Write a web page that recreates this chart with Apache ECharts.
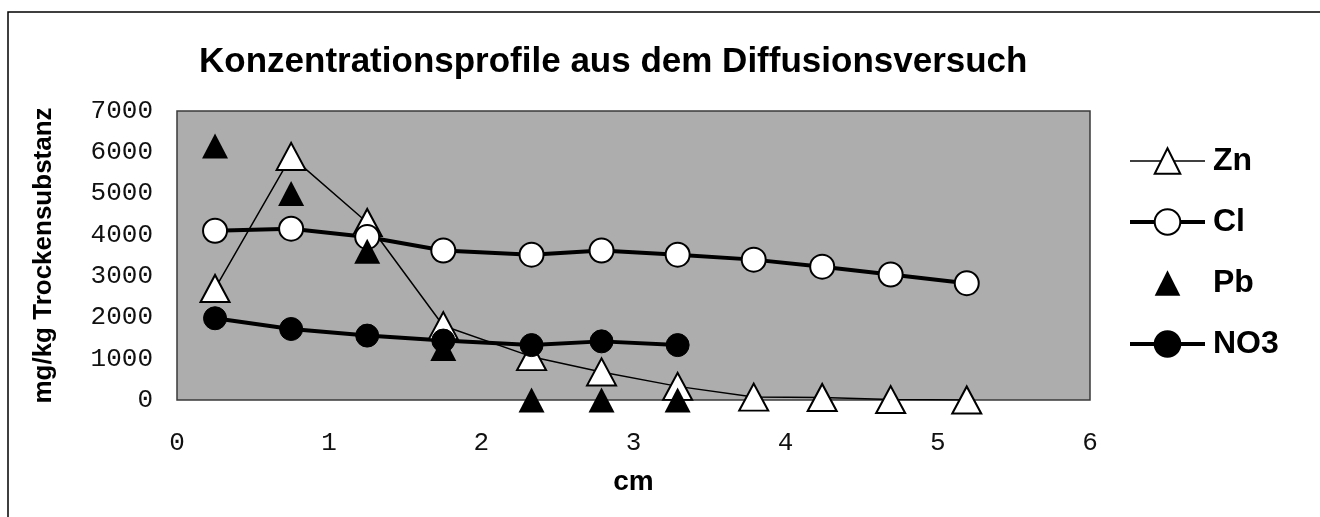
<!DOCTYPE html>
<html>
<head>
<meta charset="utf-8">
<title>Konzentrationsprofile</title>
<script src="https://cdn.jsdelivr.net/npm/echarts@6/dist/echarts.min.js"></script>
<style>
    html, body { margin: 0; padding: 0; background: #fff; }
    #main { width: 1320px; height: 517px; }
</style>
</head>
<body>
<div id="main"></div>
<script>
// Tiefe in cm (Probenpunkte)
var cm = [0.25, 0.75, 1.25, 1.75, 2.33, 2.79, 3.29, 3.79, 4.24, 4.69, 5.19];
// mg/kg Trockensubstanz
var zn = [2700, 5900, 4300, 1800, 1050, 680, 330, 70, 60, 10, 0];
var cl = [4100, 4150, 3950, 3620, 3520, 3620, 3520, 3400, 3230, 3040, 2830];
var pb = [6150, 5000, 3600, 1250, 0, 0, 0];
var no3 = [1980, 1720, 1560, 1440, 1330, 1420, 1330];
var seriesNames = ['Zn', 'Cl', 'Pb', 'NO3'];
var yTicks = [0, 1000, 2000, 3000, 4000, 5000, 6000, 7000];
var xTicks = [0, 1, 2, 3, 4, 5, 6];

function pairs(vals) {
    return vals.map(function(v, i) {
        return [cm[i], v];
    });
}

var labelFont = '"Liberation Mono", "DejaVu Sans Mono", monospace';
var boldFont = '"Liberation Sans", Arial, sans-serif';

var chart = echarts.init(document.getElementById('main'), null, { renderer: 'canvas' });

var option = {
    backgroundColor: '#fff',
    animation: false,
    title: {
        text: 'Konzentrationsprofile aus dem Diffusionsversuch',
        left: 199,
        top: 45,
        padding: 0,
        textStyle: { fontFamily: boldFont, fontWeight: 'bold', fontSize: 35, color: '#000' }
    },
    legend: {
        orient: 'vertical',
        left: 1128,
        top: 145,
        padding: 0,
        itemWidth: 75,
        itemHeight: 32,
        itemGap: 29,
        data: [
            { name: seriesNames[0], lineStyle: { width: 1.5 } },
            { name: seriesNames[1], lineStyle: { width: 4 } },
            { name: seriesNames[2] },
            { name: seriesNames[3], lineStyle: { width: 4 } }
        ],
        textStyle: { fontFamily: boldFont, fontWeight: 'bold', fontSize: 32, color: '#000', padding: [0, 0, 0, 3] }
    },
    grid: {
        left: 177,
        right: 230,
        top: 111,
        bottom: 117,
        show: true,
        backgroundColor: '#adadad',
        borderColor: '#3a3a3a',
        borderWidth: 1.5
    },
    xAxis: {
        type: 'value',
        min: xTicks[0],
        max: xTicks[xTicks.length - 1],
        interval: 1,
        name: 'cm',
        nameLocation: 'middle',
        nameGap: 68,
        nameTextStyle: { fontFamily: boldFont, fontWeight: 'bold', fontSize: 28, color: '#000' },
        axisLine: { show: false },
        axisTick: { show: false },
        splitLine: { show: false },
        axisLabel: { margin: 30, fontFamily: labelFont, fontSize: 26, color: '#111' }
    },
    yAxis: {
        type: 'value',
        min: yTicks[0],
        max: yTicks[yTicks.length - 1],
        interval: 1000,
        name: 'mg/kg Trockensubstanz',
        nameLocation: 'middle',
        nameRotate: 90,
        nameGap: 120,
        nameTextStyle: { fontFamily: boldFont, fontWeight: 'bold', fontSize: 26, color: '#000' },
        axisLine: { show: false },
        axisTick: { show: false },
        splitLine: { show: false },
        axisLabel: {
            margin: 24, fontFamily: labelFont, fontSize: 26, color: '#111',
            formatter: function(v) { return String(v); }
        }
    },
    series: [
        {
            name: 'Zn',
            type: 'line',
            data: pairs(zn),
            symbol: 'triangle',
            symbolSize: [29, 27],
            lineStyle: { color: '#000', width: 1.5 },
            itemStyle: { color: '#fff', borderColor: '#000', borderWidth: 2 }
        },
        {
            name: 'Cl',
            type: 'line',
            data: pairs(cl),
            symbol: 'circle',
            symbolSize: 24,
            lineStyle: { color: '#000', width: 4 },
            itemStyle: { color: '#fff', borderColor: '#000', borderWidth: 2 }
        },
        {
            // nur Marker, keine Verbindungslinie
            name: 'Pb',
            type: 'line',
            data: pairs(pb),
            symbol: 'triangle',
            symbolSize: [26, 25],
            lineStyle: { width: 0, opacity: 0 },
            itemStyle: { color: '#000', opacity: 1 }
        },
        {
            name: 'NO3',
            type: 'line',
            data: pairs(no3),
            symbol: 'circle',
            symbolSize: 23,
            lineStyle: { color: '#000', width: 4 },
            itemStyle: { color: '#000', borderColor: '#000', borderWidth: 1 }
        }
    ],
    graphic: [{
        // Rahmen des Diagramms (rechts/unten ausserhalb des Bildes)
        type: 'rect',
        shape: { x: 8, y: 12, width: 1400, height: 600 },
        style: { fill: null, stroke: '#000', lineWidth: 1.5 },
        silent: true
    }]
};

chart.setOption(option);
</script>
</body>
</html>
